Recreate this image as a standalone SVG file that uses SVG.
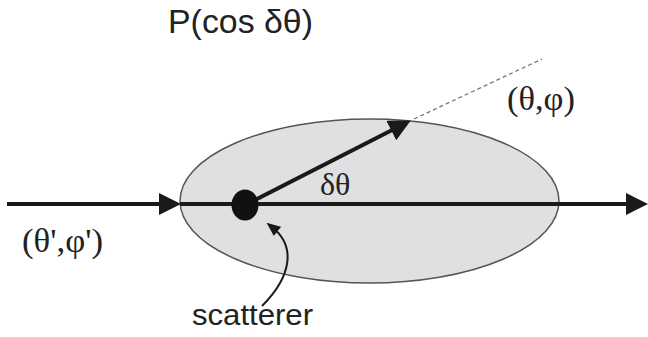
<svg xmlns="http://www.w3.org/2000/svg" width="648" height="337" viewBox="0 0 648 337">
  <style>
    .serif { font-family: "Liberation Serif", "DejaVu Serif", serif; fill: #222; }
    .sans { font-family: "Liberation Sans", Arial, sans-serif; fill: #222; }
    .thick { stroke: #1a1a1a; stroke-width: 4; fill: none; }
  </style>
  <defs>
    <marker id="big" markerUnits="userSpaceOnUse" markerWidth="22" markerHeight="22" refX="10" refY="10" orient="auto" viewBox="0 0 20 20">
      <path d="M0,0 L20,10 L0,20 z" fill="#1a1a1a"/>
    </marker>
    <marker id="small" markerUnits="userSpaceOnUse" markerWidth="14" markerHeight="14" refX="6" refY="5" orient="auto" viewBox="0 0 12 10">
      <path d="M0,0 L12,5 L0,10 z" fill="#1a1a1a"/>
    </marker>
  </defs>
  <rect width="648" height="337" fill="#fff"/>
  <g id="region">
    <ellipse cx="369.5" cy="201" rx="189.5" ry="82" fill="#e0e0e3" stroke="#555" stroke-width="1.5"/>
  </g>
  <g id="connectors">
    <line class="thick" x1="7" y1="204" x2="170" y2="204" marker-end="url(#big)"/>
    <line class="thick" x1="180" y1="204" x2="637" y2="204" marker-end="url(#big)"/>
    <line class="thick" x1="245" y1="205" x2="401" y2="125.5" marker-end="url(#big)"/>
    <line x1="414" y1="119" x2="542" y2="59" stroke="#777" stroke-width="1.3" stroke-dasharray="4 3"/>
    <path d="M262,306 C292,276 296,246 272,227" stroke="#1a1a1a" stroke-width="2" fill="none" marker-end="url(#small)"/>
  </g>
  <g id="scatterer">
    <ellipse cx="245" cy="205" rx="13.5" ry="15.5" fill="#111"/>
  </g>
  <g id="labels">
    <text class="sans" x="168" y="33" font-size="33" textLength="145" lengthAdjust="spacingAndGlyphs">P(cos δθ)</text>
    <text class="serif" x="507" y="110" font-size="34" textLength="68" lengthAdjust="spacingAndGlyphs">(θ,φ)</text>
    <text class="serif" x="320" y="195" font-size="32">δθ</text>
    <text class="serif" x="22" y="252" font-size="34" textLength="81" lengthAdjust="spacingAndGlyphs">(θ',φ')</text>
    <text class="sans" x="192" y="325" font-size="30" textLength="121" lengthAdjust="spacingAndGlyphs">scatterer</text>
  </g>
</svg>
